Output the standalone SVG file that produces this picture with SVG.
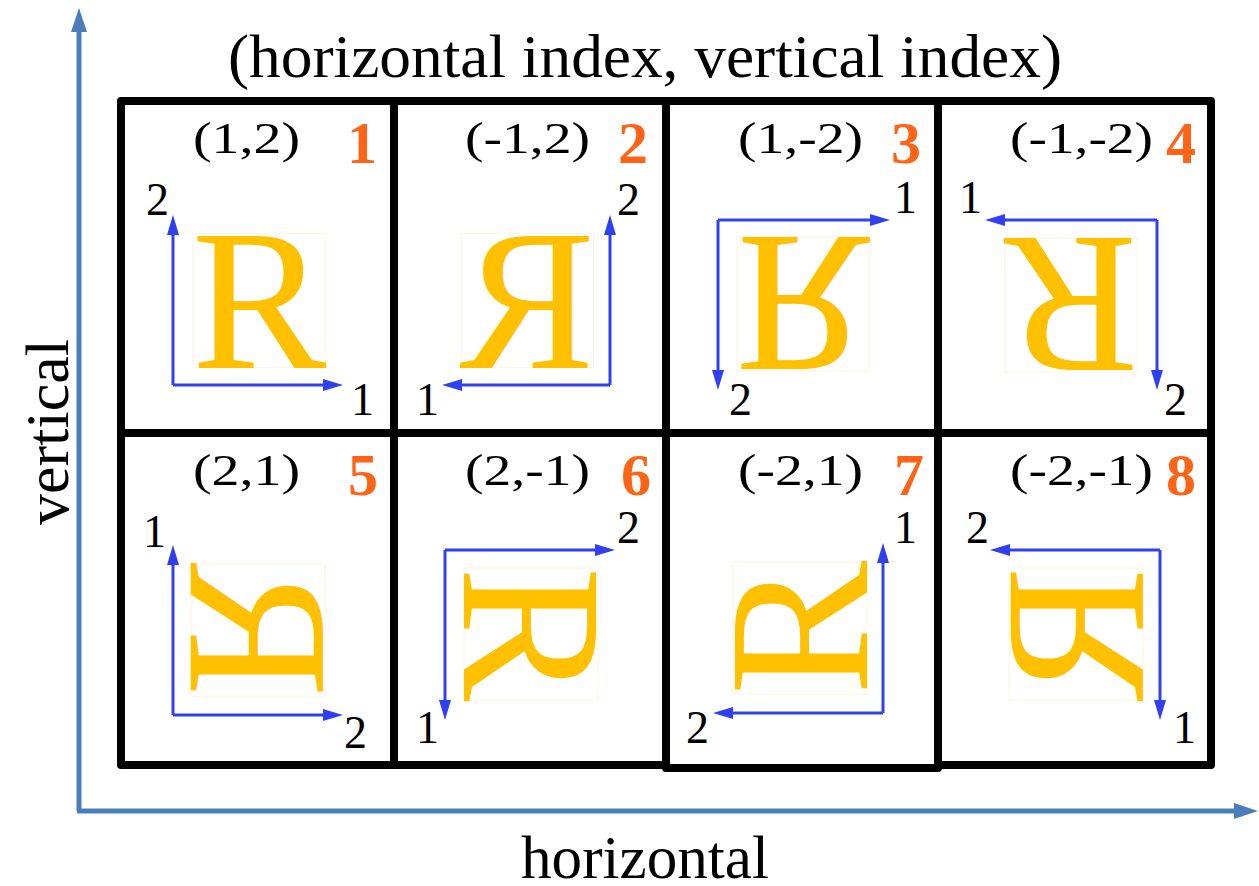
<svg xmlns="http://www.w3.org/2000/svg" width="1259" height="886" viewBox="0 0 1259 886">
<style>
.cell{fill:none;stroke:#000;stroke-width:8;stroke-linejoin:round}
.lbl{font-family:"Liberation Serif","Times New Roman",serif;font-size:45px;fill:#000}
.num{font-family:"Liberation Serif","Times New Roman",serif;font-size:60px;font-weight:bold;fill:#FF6315;text-anchor:middle}
.ax{font-family:"Liberation Serif","Times New Roman",serif;font-size:46px;fill:#000}
.big{font-family:"Liberation Serif","Times New Roman",serif;font-size:62px;fill:#000}
.R{font-family:"Liberation Serif","Times New Roman",serif;font-size:202px;fill:#FFC000;text-anchor:middle}
.rbox{fill:none;stroke:#FFF4DC;stroke-width:1}
.ba{fill:none;stroke:#3040F0;stroke-width:3;marker-end:url(#sa)}
.axis{fill:none;stroke:#4A7EBB;stroke-width:5;marker-end:url(#la)}
</style>
<defs>
<marker id="sa" markerUnits="userSpaceOnUse" markerWidth="20" markerHeight="12" refX="12" refY="6" orient="auto"><path d="M0,0 L20,6 L0,12 z" fill="#3040F0"/></marker>
<marker id="la" markerUnits="userSpaceOnUse" markerWidth="24" markerHeight="16" refX="14" refY="8" orient="auto"><path d="M0,0 L24,8 L0,16 z" fill="#4A7EBB"/></marker>
<g id="Rg"><rect class="rbox" x="-66" y="-67" width="132" height="134"/><text class="R" x="0" y="67">R</text></g>
</defs>
<rect width="1259" height="886" fill="#fff"/>
<g id="titles">
<text class="big" x="228" y="77" font-size="64" textLength="834" lengthAdjust="spacingAndGlyphs">(horizontal index, vertical index)</text>
<text class="big" x="521" y="878" textLength="248" lengthAdjust="spacingAndGlyphs">horizontal</text>
<text class="big" transform="translate(68,432) rotate(-90)" text-anchor="middle">vertical</text>
</g>
<g id="cell1"><rect class="cell" x="121" y="101" width="273" height="332"/>
<use href="#Rg" transform="translate(259,300.5)"/>
<text class="lbl" x="193" y="153" textLength="107" lengthAdjust="spacingAndGlyphs">(1,2)</text>
<text class="num" x="362" y="163">1</text>
<text class="ax" x="146" y="215">2</text><text class="ax" x="351" y="415">1</text></g>
<g id="cell2"><rect class="cell" x="394" y="101" width="272" height="332"/>
<use href="#Rg" transform="translate(527.5,300.5) scale(-1,1)"/>
<text class="lbl" x="465" y="153" textLength="125" lengthAdjust="spacingAndGlyphs">(-1,2)</text>
<text class="num" x="633" y="163">2</text>
<text class="ax" x="617" y="215">2</text><text class="ax" x="416" y="415">1</text></g>
<g id="cell3"><rect class="cell" x="666" y="101" width="272" height="332"/>
<use href="#Rg" transform="translate(803,304) scale(1,-1)"/>
<text class="lbl" x="738" y="153" textLength="125" lengthAdjust="spacingAndGlyphs">(1,-2)</text>
<text class="num" x="906" y="163">3</text>
<text class="ax" x="894" y="213">1</text><text class="ax" x="729" y="415">2</text></g>
<g id="cell4"><rect class="cell" x="938" y="101" width="273" height="332"/>
<use href="#Rg" transform="translate(1071,305) rotate(180)"/>
<text class="lbl" x="1010" y="153" textLength="143" lengthAdjust="spacingAndGlyphs">(-1,-2)</text>
<text class="num" x="1181" y="163">4</text>
<text class="ax" x="959" y="213">1</text><text class="ax" x="1164" y="415">2</text></g>
<g id="cell5"><rect class="cell" x="121" y="433" width="273" height="332"/>
<use href="#Rg" transform="translate(258,630) matrix(0,-1,-1,0,0,0)"/>
<text class="lbl" x="193" y="485" textLength="107" lengthAdjust="spacingAndGlyphs">(2,1)</text>
<text class="num" x="363" y="495">5</text>
<text class="ax" x="143" y="547">1</text><text class="ax" x="344" y="748">2</text></g>
<g id="cell6"><rect class="cell" x="394" y="433" width="272" height="332"/>
<use href="#Rg" transform="translate(531,634) rotate(90)"/>
<text class="lbl" x="465" y="485" textLength="125" lengthAdjust="spacingAndGlyphs">(2,-1)</text>
<text class="num" x="636" y="495">6</text>
<text class="ax" x="617" y="543">2</text><text class="ax" x="416" y="743">1</text></g>
<g id="cell7"><rect class="cell" x="666" y="433" width="272" height="335"/>
<use href="#Rg" transform="translate(800,628) rotate(-90)"/>
<text class="lbl" x="738" y="485" textLength="125" lengthAdjust="spacingAndGlyphs">(-2,1)</text>
<text class="num" x="909" y="495">7</text>
<text class="ax" x="894" y="543">1</text><text class="ax" x="686" y="743">2</text></g>
<g id="cell8"><rect class="cell" x="938" y="433" width="273" height="332"/>
<use href="#Rg" transform="translate(1076,634) matrix(0,1,1,0,0,0)"/>
<text class="lbl" x="1010" y="485" textLength="143" lengthAdjust="spacingAndGlyphs">(-2,-1)</text>
<text class="num" x="1181" y="495">8</text>
<text class="ax" x="966" y="543">2</text><text class="ax" x="1173" y="743">1</text></g>
<g id="connectors">
<path class="axis" d="M79,811 L79,18"/>
<path class="axis" d="M77,811 L1248,811"/>
<path class="ba" d="M173,385 L173,223"/><path class="ba" d="M173,385 L335,385"/>
<path class="ba" d="M610,385 L610,223"/><path class="ba" d="M610,385 L450,385"/>
<path class="ba" d="M718,220 L882,220"/><path class="ba" d="M718,220 L718,382"/>
<path class="ba" d="M1157,220 L993,220"/><path class="ba" d="M1157,220 L1157,382"/>
<path class="ba" d="M173,715 L173,553"/><path class="ba" d="M173,715 L335,715"/>
<path class="ba" d="M445,550 L607,550"/><path class="ba" d="M445,550 L445,712"/>
<path class="ba" d="M883,713 L883,551"/><path class="ba" d="M883,713 L721,713"/>
<path class="ba" d="M1160,550 L998,550"/><path class="ba" d="M1160,550 L1160,712"/>
</g>
</svg>
